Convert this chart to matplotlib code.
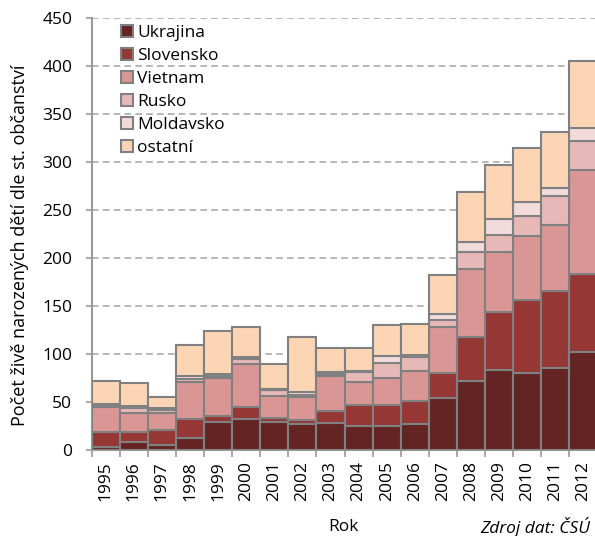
import matplotlib
matplotlib.use('Agg')
import matplotlib.pyplot as plt
import numpy as np

plt.rcParams['font.family'] = ['Open Sans', 'DejaVu Sans']

years = ['1995', '1996', '1997', '1998', '1999', '2000', '2001', '2002', '2003',
         '2004', '2005', '2006', '2007', '2008', '2009', '2010', '2011', '2012']

# values
ukrajina = [3, 9, 5, 13, 29, 33, 29, 27, 28, 25, 25, 27, 54, 72, 84, 80, 86, 102]
slovensko = [16, 10, 16, 20, 7, 12, 5, 5, 13, 22, 22, 24, 26, 46, 60, 76, 80, 82]
vietnam = [26, 20, 18, 38, 39, 45, 23, 23, 36, 24, 28, 32, 48, 71, 63, 67, 69, 108]
rusko = [1, 5, 3, 3, 2, 5, 6, 3, 2, 10, 16, 14, 8, 18, 17, 21, 30, 30]
moldavsko = [2, 2, 2, 3, 2, 2, 1, 3, 2, 2, 7, 2, 6, 10, 17, 15, 8, 14]
ostatni = [24, 24, 11, 33, 45, 31, 26, 57, 26, 24, 32, 33, 41, 52, 56, 56, 58, 69]

series = [ukrajina, slovensko, vietnam, rusko, moldavsko, ostatni]
labels = ['Ukrajina', 'Slovensko', 'Vietnam', 'Rusko', 'Moldavsko', 'ostatní']
colors = ['#632423', '#953735', '#D99694', '#E6B9B8', '#F2DCDB', '#FCD5B5']

fig = plt.figure(figsize=(5.95, 5.36), dpi=100)
ax = fig.add_axes([0.154, 0.160, 0.850, 0.806])

x = np.arange(len(years))
bottom = np.zeros(len(years))
for vals, lab, col in zip(series, labels, colors):
    ax.bar(x, vals, width=1.0, bottom=bottom, color=col, edgecolor='#808080',
           linewidth=1.5, label=lab, zorder=3)
    bottom += np.array(vals)

ax.set_xlim(-0.5, len(years) - 0.5)
ax.set_ylim(0, 450)
ax.set_yticks(range(0, 451, 50))
ax.yaxis.grid(True, linestyle=(0, (4, 2.5)), color='#AAAAAA', linewidth=1.2, zorder=0)

ax.set_xticks(x)
ax.set_xticklabels(years, rotation=90, fontsize=12.5)
ax.set_xticks(np.arange(-0.5, len(years)), minor=True)
ax.tick_params(axis='x', which='major', length=0, pad=8)
ax.tick_params(axis='x', which='minor', length=5, width=1.2, color='#999999')
ax.tick_params(axis='y', length=4, width=1.2, color='#999999', labelsize=12.5, pad=10)

for side in ['top', 'right']:
    ax.spines[side].set_visible(False)
for side in ['left', 'bottom']:
    ax.spines[side].set_color('#999999')
    ax.spines[side].set_linewidth(1.5)

fig.text(20 / 595, 1 - 245 / 536, 'Počet živě narozených dětí dle st. občanství',
         rotation=90, ha='center', va='center', fontsize=13)
fig.text(343 / 595, 1 - 527 / 536, 'Rok', ha='center', va='center', fontsize=12.5)
fig.text(590 / 595, 1 - 527 / 536, 'Zdroj dat: ČSÚ', ha='right', va='center',
         fontsize=12.5, style='italic')

leg = ax.legend(loc='upper left', bbox_to_anchor=(0.045, 1.0), frameon=False,
                fontsize=12.5, handlelength=0.65, handleheight=0.65,
                handletextpad=0.25, labelspacing=0.4, borderaxespad=0)

fig.savefig('out.png', dpi=100)
